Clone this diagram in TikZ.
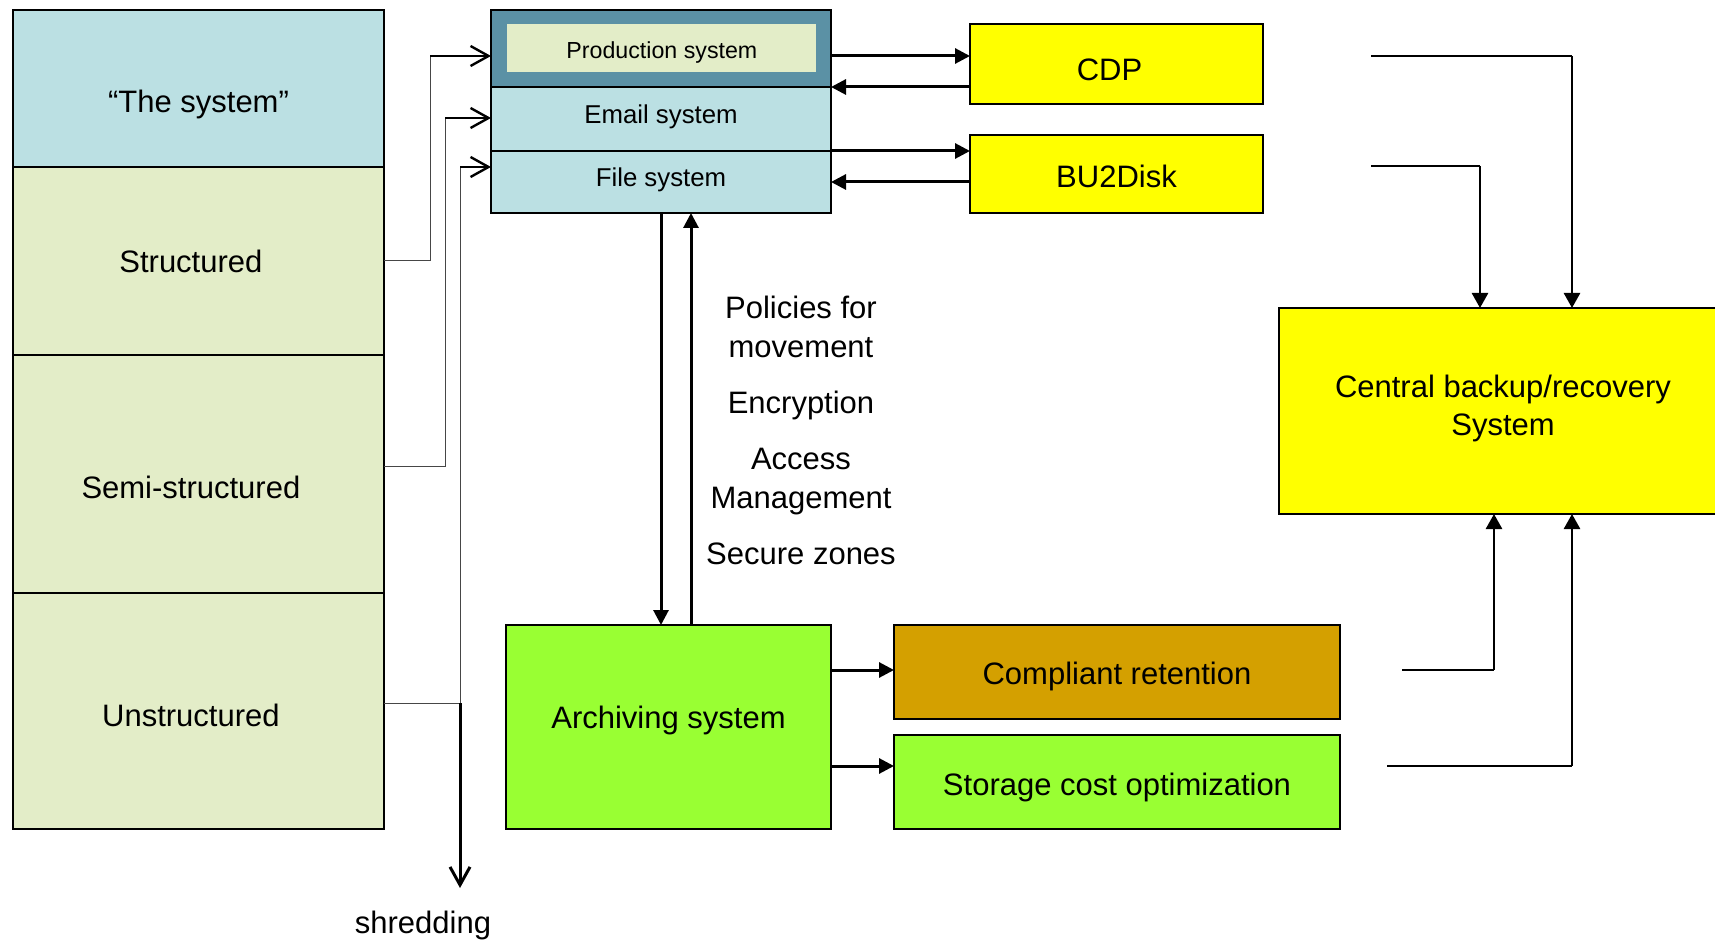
\documentclass[tikz,border=0pt]{standalone}
\usepackage{fontspec}
\setmainfont{Liberation Sans}
\usetikzlibrary{arrows.meta}
\definecolor{lblue}{RGB}{187,224,227}
\definecolor{lgreen}{RGB}{227,237,200}
\definecolor{tealbox}{RGB}{91,145,165}
\definecolor{yel}{RGB}{255,255,0}
\definecolor{grn}{RGB}{153,255,51}
\definecolor{orng}{RGB}{212,160,0}
\definecolor{thingray}{RGB}{70,70,70}
\begin{document}
\begin{tikzpicture}[x=0.5pt,y=-0.5pt,
  box/.style={draw=black, line width=0.8pt, inner sep=0pt, outer sep=0pt, anchor=north west, align=center, font=\fontsize{15.5}{19}\selectfont},
  lbl/.style={inner sep=0pt, font=\fontsize{15.5}{19}\selectfont, align=center},
  arr/.style={line width=1.5pt, -{Triangle[length=7.5pt,width=7.5pt]}},
  arrv/.style={line width=1.3pt, -{Triangle[length=7.5pt,width=8pt]}},
  openarr/.style={line width=1.2pt, -{Straight Barb[length=9pt,width=10pt]}},
  shredarr/.style={line width=1.5pt, -{Straight Barb[length=9pt,width=10pt]}},
  thinl/.style={draw=thingray, line width=0.5pt},
  thinr/.style={draw=black, line width=0.6pt}]
\useasboundingbox (0,0) rectangle (1715,941);
\fill[white] (0,0) rectangle (1715,941);
\clip (0,0) rectangle (1715,941);

% left column
\node[box, fill=lblue, minimum width=185.5pt, minimum height=78.5pt,
      label={[lbl,yshift=-8pt]center:“The system”}] (sys) at (13,10) {};
\node[box, fill=lgreen, minimum width=185.5pt, minimum height=94pt,
      label={[lbl,xshift=-3.8pt]center:Structured}] (str) at (13,167) {};
\node[box, fill=lgreen, minimum width=185.5pt, minimum height=119pt,
      label={[lbl,xshift=-3.8pt,yshift=-6.5pt]center:Semi-structured}] (semi) at (13,355) {};
\node[box, fill=lgreen, minimum width=185.5pt, minimum height=118pt,
      label={[lbl,xshift=-3.8pt,yshift=-2pt]center:Unstructured}] (uns) at (13,593) {};

% production stack
\node[box, fill=tealbox, minimum width=170pt, minimum height=38.5pt] (prod) at (491,10) {};
\node[anchor=north west, inner sep=0pt, fill=lgreen, minimum width=154.5pt, minimum height=24pt,
      label={[inner sep=0pt, font=\fontsize{11.6}{14}\selectfont, yshift=-2pt]center:Production system}] (prodin) at (507,24) {};
\node[box, fill=lblue, minimum width=170pt, minimum height=32pt,
      label={[inner sep=0pt, font=\fontsize{12.9}{15}\selectfont, yshift=1pt]center:Email system}] (email) at (491,87) {};
\node[box, fill=lblue, minimum width=170pt, minimum height=31pt,
      label={[inner sep=0pt, font=\fontsize{12.9}{15}\selectfont, yshift=1pt]center:File system}] (file) at (491,151) {};

% CDP / BU2Disk
\node[box, fill=yel, minimum width=146.5pt, minimum height=40pt,
      label={[lbl,xshift=-3.5pt,yshift=-3pt]center:CDP}] (cdp) at (970,24) {};
\node[box, fill=yel, minimum width=146.5pt, minimum height=39pt,
      label={[lbl,yshift=-1pt]center:BU2Disk}] (bu) at (970,135) {};

% archiving etc.
\node[box, fill=grn, minimum width=162.5pt, minimum height=102pt,
      label={[lbl,yshift=3.5pt]center:Archiving system}] (arch) at (506,625) {};
\node[box, fill=orng, minimum width=223pt, minimum height=47pt,
      label={[lbl,yshift=-2pt]center:Compliant retention}] (comp) at (894,625) {};
\node[box, fill=grn, minimum width=223pt, minimum height=47pt,
      label={[lbl,yshift=-2.5pt]center:Storage cost optimization}] (stor) at (894,735) {};

% central backup
\node[box, fill=yel, minimum width=224pt, minimum height=103pt,
      label={[lbl,yshift=1.5pt]center:Central backup/recovery\\System}] (cent) at (1279,308) {};

% policies text
\node[lbl, font=\fontsize{15.5}{19.5}\selectfont] (pol) at (801,430)
  {Policies for\\movement\\[8.5pt]Encryption\\[8.5pt]Access\\Management\\[8.5pt]Secure zones};

% left connectors
\coordinate (k1) at (430,56);
\coordinate (k2) at (445,118);
\coordinate (k3) at (460,167);
\coordinate (s2) at ([yshift=4pt]semi.east);
\coordinate (s3) at ([yshift=4pt]uns.east);
\draw[thinl] (str.east) -| (k1);
\draw[openarr] (k1) -- (prod.west |- k1);
\draw[thinl] (s2) -| (k2);
\draw[openarr] (k2) -- (email.west |- k2);
\draw[thinl] (s3) -| (k3);
\draw[openarr] (k3) -- (file.west |- k3);
\coordinate (sh) at (460,888);
\draw[shredarr] (s3 -| k3) -- (sh);
\node[lbl] (shred) at (423,925) {shredding};

% stack <-> CDP / BU2Disk
\coordinate (ya) at (0,56);
\coordinate (yb) at (0,87);
\coordinate (yc) at (0,151);
\coordinate (yd) at (0,182);
\draw[arr] (prod.east |- ya) -- (cdp.west |- ya);
\draw[arr] (cdp.west |- yb) -- (prod.east |- yb);
\draw[arr] (email.east |- yc) -- (bu.west |- yc);
\draw[arr] (bu.west |- yd) -- (file.east |- yd);

% stack <-> archiving
\coordinate (dn) at (661,0);
\coordinate (up) at (691,0);
\draw[arr] (file.south -| dn) -- (arch.north -| dn);
\draw[arr] (arch.north -| up) -- (file.south -| up);

% archiving -> compliant / storage
\coordinate (yc1) at ([yshift=1pt]comp.west);
\coordinate (ys1) at ([yshift=8pt]stor.west);
\draw[arr] (arch.east |- yc1) -- (yc1);
\draw[arr] (arch.east |- ys1) -- (ys1);

% right side lines
\coordinate (r1) at (1371,56);  \coordinate (r1v) at (1572,56);
\coordinate (r2) at (1371,166); \coordinate (r2v) at (1480,166);
\coordinate (r3) at (1402,670); \coordinate (r3v) at (1494,670);
\coordinate (r4) at (1387,766); \coordinate (r4v) at (1572,766);
\draw[thinr] (r1) -- (r1v);
\draw[arrv] (r1v) -- (cent.north -| r1v);
\draw[thinr] (r2) -- (r2v);
\draw[arrv] (r2v) -- (cent.north -| r2v);
\draw[thinr] (r3) -- (r3v);
\draw[arrv] (r3v) -- (cent.south -| r3v);
\draw[thinr] (r4) -- (r4v);
\draw[arrv] (r4v) -- (cent.south -| r4v);
\end{tikzpicture}
\end{document}
